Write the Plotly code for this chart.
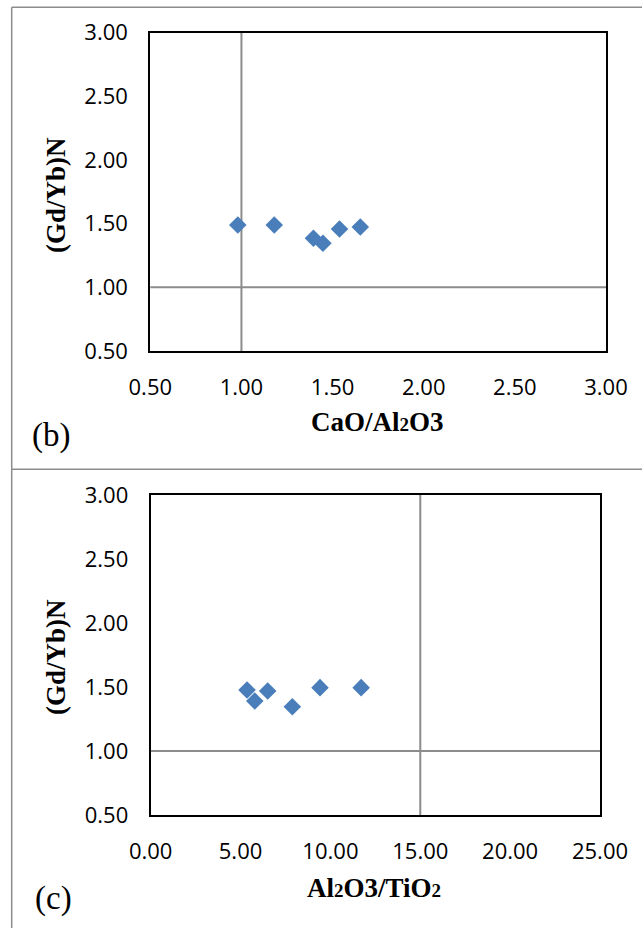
import plotly.graph_objects as go

W, H = 642, 928

# Panel (b): CaO/Al2O3 vs (Gd/Yb)N
cao_al2o3 = [0.98, 1.18, 1.395, 1.447, 1.538, 1.652]
gdyb_b = [1.49, 1.49, 1.385, 1.346, 1.458, 1.474]

# Panel (c): Al2O3/TiO2 vs (Gd/Yb)N
al2o3_tio2 = [5.36, 5.79, 6.51, 7.88, 9.42, 11.71]
gdyb_c = [1.477, 1.39, 1.469, 1.346, 1.495, 1.495]

y_ticks = [0.5, 1.0, 1.5, 2.0, 2.5, 3.0]
x_ticks_b = [0.5, 1.0, 1.5, 2.0, 2.5, 3.0]
x_ticks_c = [0, 5, 10, 15, 20, 25]

ref_x_b, ref_y_b = 1.0, 1.0
ref_x_c, ref_y_c = 15.0, 1.0

MARKER = "#4A7EBB"
REF = "#8C8C8C"
FRAME = "#8C8C8C"
TICKFONT = dict(family="Open Sans", size=22, color="#000000")
TITLEFONT = dict(family="Liberation Serif", size=27, color="#000000")


def px(x):
    return x / W


def py(y):
    return 1 - y / H


fig = go.Figure()
fig.add_trace(go.Scatter(x=cao_al2o3, y=gdyb_b, mode="markers", xaxis="x", yaxis="y",
                         marker=dict(symbol="diamond", size=13.5, color=MARKER, line=dict(width=0)),
                         showlegend=False))
fig.add_trace(go.Scatter(x=al2o3_tio2, y=gdyb_c, mode="markers", xaxis="x2", yaxis="y2",
                         marker=dict(symbol="diamond", size=13.5, color=MARKER, line=dict(width=0)),
                         showlegend=False))

axis_common = dict(showgrid=False, zeroline=False, showline=True, linecolor="#000000",
                   linewidth=2, mirror=True, ticks="", tickfont=TICKFONT, tickformat=".2f",
                   automargin=False)

fig.update_layout(
    width=W, height=H,
    margin=dict(l=0, r=0, t=0, b=0, pad=0),
    paper_bgcolor="white", plot_bgcolor="white",
    xaxis=dict(domain=[px(150.3), px(606)], range=[0.5, 3.0], tickvals=x_ticks_b,
               anchor="y", ticklabelstandoff=16, **axis_common),
    yaxis=dict(domain=[py(351), py(32.7)], range=[0.5, 3.0], tickvals=y_ticks,
               anchor="x", ticklabelstandoff=16, **axis_common),
    xaxis2=dict(domain=[px(150.7), px(600)], range=[0, 25], tickvals=x_ticks_c,
                anchor="y2", ticklabelstandoff=16, **axis_common),
    yaxis2=dict(domain=[py(815), py(495)], range=[0.5, 3.0], tickvals=y_ticks,
                anchor="x2", ticklabelstandoff=16, **axis_common),
)

# reference lines
fig.add_shape(type="line", xref="x", yref="y domain", x0=ref_x_b, x1=ref_x_b, y0=0, y1=1,
              line=dict(color=REF, width=2), layer="below")
fig.add_shape(type="line", xref="x domain", yref="y", x0=0, x1=1, y0=ref_y_b, y1=ref_y_b,
              line=dict(color=REF, width=2), layer="below")
fig.add_shape(type="line", xref="x2", yref="y2 domain", x0=ref_x_c, x1=ref_x_c, y0=0, y1=1,
              line=dict(color=REF, width=2), layer="below")
fig.add_shape(type="line", xref="x2 domain", yref="y2", x0=0, x1=1, y0=ref_y_c, y1=ref_y_c,
              line=dict(color=REF, width=2), layer="below")

# outer frame (table-like borders)
fig.add_shape(type="line", xref="paper", yref="paper", x0=px(11.7), x1=px(11.7), y0=0, y1=py(7.3),
              line=dict(color=FRAME, width=1.5))
fig.add_shape(type="line", xref="paper", yref="paper", x0=px(11.7), x1=1, y0=py(7.3), y1=py(7.3),
              line=dict(color=FRAME, width=1.5))
fig.add_shape(type="line", xref="paper", yref="paper", x0=px(11.7), x1=1, y0=py(469.3), y1=py(469.3),
              line=dict(color=FRAME, width=1.5))

small2 = '<span style="font-size:19px">2</span>'
annots = [
    dict(text="<b>CaO/Al" + small2 + "O3</b>", x=px(378), y=py(422)),
    dict(text="<b>Al" + small2 + "O3/TiO" + small2 + "</b>", x=px(374), y=py(888)),
    dict(text="<b>(Gd/Yb)N</b>", x=px(56), y=py(195), textangle=-90),
    dict(text="<b>(Gd/Yb)N</b>", x=px(56), y=py(657), textangle=-90),
]
for a in annots:
    fig.add_annotation(xref="paper", yref="paper", xanchor="center", yanchor="middle",
                       showarrow=False, font=TITLEFONT, **a)

fig.add_annotation(text="(b)", xref="paper", yref="paper", x=px(51), y=py(435),
                   xanchor="center", yanchor="middle", showarrow=False,
                   font=dict(family="Liberation Serif", size=33, color="#000000"))
fig.add_annotation(text="(c)", xref="paper", yref="paper", x=px(53), y=py(898),
                   xanchor="center", yanchor="middle", showarrow=False,
                   font=dict(family="Liberation Serif", size=33, color="#000000"))

fig.write_html("out.html")
